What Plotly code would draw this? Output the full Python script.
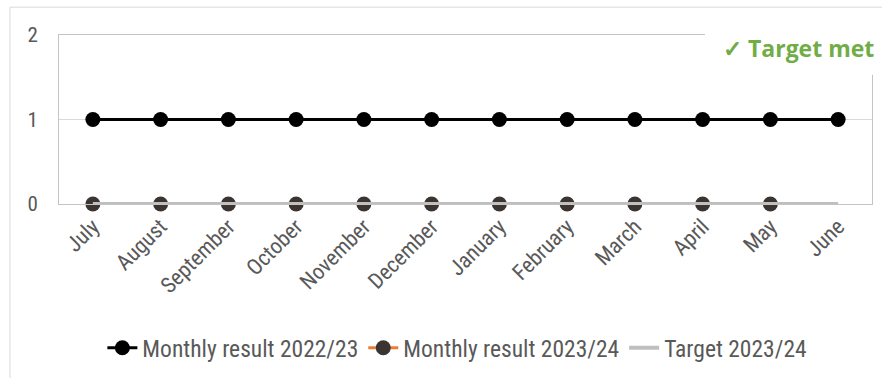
import plotly.graph_objects as go

months = ["July", "August", "September", "October", "November", "December",
          "January", "February", "March", "April", "May", "June"]
result_2022_23 = [1, 1, 1, 1, 1, 1, 1, 1, 1, 1, 1, 1]
result_2023_24 = [0, 0, 0, 0, 0, 0, 0, 0, 0, 0, 0, None]
target_2023_24 = [0, 0, 0, 0, 0, 0, 0, 0, 0, 0, 0, 0]
y_ticks = [0, 1, 2]

FONT = "Roboto Condensed, DejaVu Sans Condensed, sans-serif"
L, T, R, B = 59, 35, 872, 205
PW, PH = R - L, B - T


def px(x):
    return (x - L) / PW


def py(y):
    return (B - y) / PH


fig = go.Figure()
fig.add_trace(go.Scatter(
    x=months, y=result_2022_23, name="Monthly result 2022/23",
    mode="lines+markers", line=dict(color="#000000", width=3),
    marker=dict(color="#000000", size=15), cliponaxis=False))
fig.add_trace(go.Scatter(
    x=months, y=result_2023_24, name="Monthly result 2023/24",
    mode="lines+markers", line=dict(color="#ED7D31", width=3),
    marker=dict(color="#3B3431", size=15), cliponaxis=False))
fig.add_trace(go.Scatter(
    x=months, y=target_2023_24, name="Target 2023/24",
    mode="lines", line=dict(color="#BFBFBF", width=4), cliponaxis=False))

fig.update_layout(
    width=882, height=378,
    margin=dict(l=L, r=882 - R, t=T, b=378 - B),
    paper_bgcolor="white", plot_bgcolor="white",
    font=dict(family=FONT, size=20, color="#595959"),
    showlegend=True,
    legend=dict(orientation="h", x=0.49, xanchor="center", y=py(348), yanchor="middle",
                font=dict(family=FONT, size=23.5, color="#595959"),
                tracegroupgap=0),
    xaxis=dict(type="category", tickangle=-45, showgrid=False,
               showline=True, linecolor="#C4C4C4", linewidth=1, mirror=True,
               ticks="", tickfont=dict(size=22), range=[-0.5, 11.5]),
    yaxis=dict(range=[0, 2], tickvals=y_ticks, showgrid=True, gridcolor="#D9D9D9",
               gridwidth=1, zeroline=False, showline=True, linecolor="#C4C4C4",
               linewidth=1, mirror=True, ticks="", ticklabelstandoff=16,
               tickfont=dict(size=21)),
)

# white patch behind the "Target met" label, covering the plot border
fig.add_shape(type="rect", xref="paper", yref="paper",
              x0=px(705), x1=px(880), y0=py(75), y1=py(28),
              line=dict(width=0), fillcolor="white", layer="above")

fig.add_annotation(
    xref="paper", yref="paper", x=px(798), y=py(48),
    text="✓ Target met", showarrow=False,
    font=dict(family="Open Sans, sans-serif", size=23, color="#70AD47", weight="bold"),
    xanchor="center", yanchor="middle")

fig.add_shape(type="rect", xref="paper", yref="paper",
              x0=px(10), x1=px(895), y0=py(395), y1=py(7),
              line=dict(color="#D9D9D9", width=1), layer="below")

fig.write_html("out.html")
